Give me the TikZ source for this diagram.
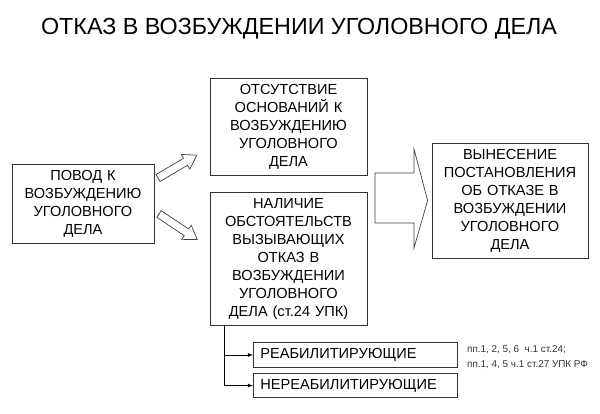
\documentclass[tikz,border=0pt]{standalone}
\usepackage{fontspec}
\setmainfont{Liberation Sans}
\usetikzlibrary{positioning,arrows}

\begin{document}
\begin{tikzpicture}[x=1pt,y=-1pt]
        \tikzstyle{every node}+=[inner sep=0pt]
        \tikzstyle{box}=[draw=black!80, line width=0.8pt, align=center, font=\fontsize{14.6}{18}\selectfont]
        \tikzstyle{wide}=[box, minimum width=204pt, minimum height=24.5pt, anchor=west, text width=190pt, align=left]
        \tikzstyle{hollow}=[draw=black!75, line width=0.7pt, fill=white, line join=miter]
        \useasboundingbox (0,0) rectangle (600,414);
        \node (title) at (299,29) {\fontsize{23.3}{27}\selectfont ОТКАЗ В ВОЗБУЖДЕНИИ УГОЛОВНОГО ДЕЛА};
        \node [box, minimum width=157pt, minimum height=97pt, text width=150pt] (otsut) at (288.5,126.5) {ОТСУТСТВИЕ\\ОСНОВАНИЙ К\\ВОЗБУЖДЕНИЮ\\УГОЛОВНОГО\\ДЕЛА};
        \node [box, minimum width=142pt, minimum height=79pt, text width=136pt] (povod) at (83,203.5) {ПОВОД К\\ВОЗБУЖДЕНИЮ\\УГОЛОВНОГО\\ДЕЛА};
        \node [box, minimum width=157pt, minimum height=133pt, text width=150pt] (nalich) at (288.5,258.5) {НАЛИЧИЕ\\ОБСТОЯТЕЛЬСТВ\\ВЫЗЫВАЮЩИХ\\ОТКАЗ В\\ВОЗБУЖДЕНИИ\\УГОЛОВНОГО\\ДЕЛА (ст.24 УПК)};
        \node [box, minimum width=156pt, minimum height=115pt, text width=152pt] (vynes) at (510,200.5) {ВЫНЕСЕНИЕ\\ПОСТАНОВЛЕНИЯ\\ОБ ОТКАЗЕ В\\ВОЗБУЖДЕНИИ\\УГОЛОВНОГО\\ДЕЛА};
        \node [wide] (reab) at (253,355) {РЕАБИЛИТИРУЮЩИЕ};
        \node [wide] (nereab) at (253,385.5) {НЕРЕАБИЛИТИРУЮЩИЕ};
        \node [anchor=west, align=left, font=\fontsize{9.9}{15}\selectfont, text=black!80] (norms) at (467,357.5) {пп.1, 2, 5, 6\ \ ч.1 ст.24;\\пп.1, 4, 5 ч.1 ст.27 УПК РФ};
        % hollow arrows from the reason box
        \begin{scope}[shift={(158,178)}, rotate=30.5]
        \draw [hollow] (0,-4) -- (32,-4) -- (32,-8.5) -- (45,0) -- (32,8.5) -- (32,4) -- (0,4) -- cycle;
        \end{scope}
        \begin{scope}[shift={(159,214)}, rotate=-33.7]
        \draw [hollow] (0,-4) -- (33,-4) -- (33,-8.5) -- (46,0) -- (33,8.5) -- (33,4) -- (0,4) -- cycle;
        \end{scope}
        % big arrow to the decision box
        \draw [hollow] (375,173) -- (414,173) -- (414,149) -- ([xshift=-4pt]vynes.west) -- (414,248) -- (414,223) -- (375,223) -- cycle;
        \coordinate (trunk) at ([xshift=15pt]nalich.south west);
        \draw [black, line width=0.8pt, -latex] (trunk) |- (reab.west);
        \draw [black, line width=0.8pt, -latex] (trunk) |- (nereab.west);
\end{tikzpicture}
\end{document}
